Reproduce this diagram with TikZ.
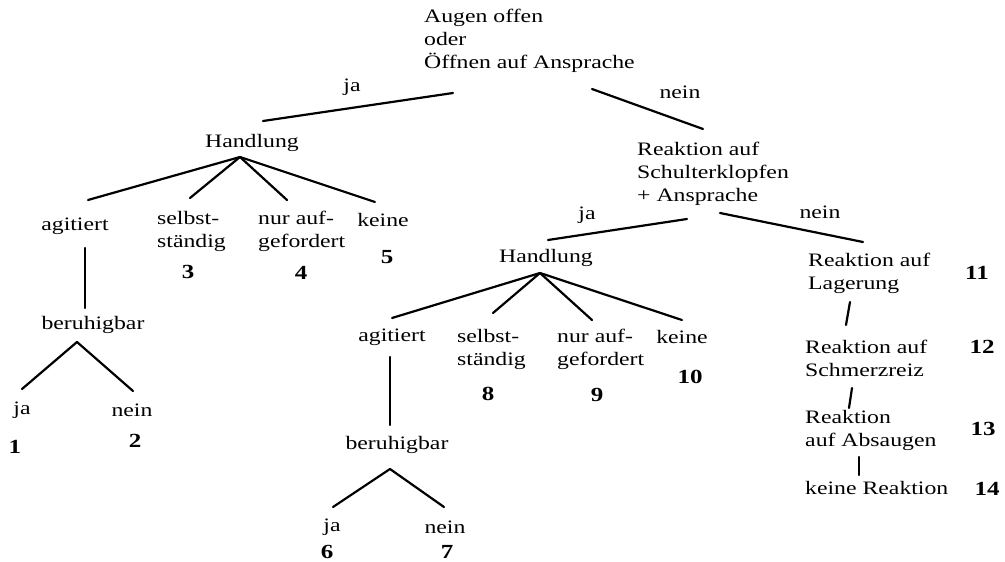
\documentclass[tikz,border=0pt]{standalone}
\usepackage{fontspec}
\setmainfont{Liberation Serif}[FakeStretch=1.25]
\begin{document}
\begin{tikzpicture}[x=1pt,y=-1pt,
  txt/.style={inner sep=0pt,anchor=west,align=left,font=\fontsize{19}{23}\selectfont},
  ctxt/.style={inner sep=0pt,anchor=center,align=center,font=\fontsize{19}{23}\selectfont},
  num/.style={inner sep=0pt,anchor=center,font=\fontsize{20}{23}\selectfont\bfseries},
  ln/.style={line width=2.2pt,line cap=round}]
\useasboundingbox[fill=white] (0,0) rectangle (1005,562);

% ---------- texts ----------
\node[txt] (root) at (424,41) {Augen offen\\oder\\Öffnen auf Ansprache};
\node[ctxt] (rja) at (352,87) {ja};
\node[ctxt] (rnein) at (680,92) {nein};

\node[ctxt] (hl) at (252,143) {Handlung};
\node[ctxt] (agl) at (75,226) {agitiert};
\node[txt] (sel) at (157,231.5) {selbst-\\ständig};
\node[txt] (nul) at (258,231.5) {nur auf-\\gefordert};
\node[ctxt] (kel) at (383,220) {keine};
\node[num] (n3) at (188,272) {3};
\node[num] (n4) at (301,273) {4};
\node[num] (n5) at (387,257) {5};
\node[ctxt] (bl) at (93,325) {beruhigbar};
\node[ctxt] (jal) at (22,410) {ja};
\node[ctxt] (nel) at (132,410) {nein};
\node[num] (n1) at (15,447) {1};
\node[num] (n2) at (135,441) {2};

\node[txt] (sch) at (637,173.5) {Reaktion auf\\Schulterklopfen\\+ Ansprache};
\node[ctxt] (sja) at (587,215) {ja};
\node[ctxt] (snein) at (820,212) {nein};

\node[ctxt] (hr) at (546,258) {Handlung};
\node[ctxt] (agr) at (392,337) {agitiert};
\node[txt] (ser) at (457,349.5) {selbst-\\ständig};
\node[txt] (nur) at (557,349.5) {nur auf-\\gefordert};
\node[ctxt] (ker) at (682,337) {keine};
\node[num] (n8) at (488,394) {8};
\node[num] (n9) at (597,395) {9};
\node[num] (n10) at (690,377) {10};
\node[ctxt] (br) at (397,445) {beruhigbar};
\node[ctxt] (jar) at (332,527) {ja};
\node[ctxt] (ner) at (445,527) {nein};
\node[num] (n6) at (327,552) {6};
\node[num] (n7) at (447,552) {7};

\node[txt] (lag) at (808,273.5) {Reaktion auf\\Lagerung};
\node[num] (n11) at (977,273) {11};
\node[txt] (sz) at (805,358) {Reaktion auf\\Schmerzreiz};
\node[num] (n12) at (982,347) {12};
\node[txt] (abs) at (805,430) {Reaktion\\auf Absaugen};
\node[num] (n13) at (983,429) {13};
\node[txt] (kr) at (805,488) {keine Reaktion};
\node[num] (n14) at (987,489) {14};

% ---------- connector end points ----------
\coordinate (rootL) at (453,93);   \coordinate (hlT) at (263,121);
\coordinate (rootR) at (592,89);   \coordinate (schT) at (703,129);
\coordinate (hlA) at (240,157);
\coordinate (aglT) at (88,200);  \coordinate (selT) at (190,198);
\coordinate (nulT) at (287,200); \coordinate (kelT) at (375,202);
\coordinate (aglB) at (85,248);  \coordinate (blT) at (85,308);
\coordinate (blA) at (77,342);
\coordinate (jalT) at (22,389);  \coordinate (nelT) at (133,391);
\coordinate (schL) at (687,219); \coordinate (hrT) at (548,240);
\coordinate (schR) at (720,213); \coordinate (lagT) at (863,242);
\coordinate (hrA) at (540,273);
\coordinate (agrT) at (392,318); \coordinate (serT) at (493,313);
\coordinate (nurT) at (592,320); \coordinate (kerT) at (682,320);
\coordinate (agrB) at (390,357); \coordinate (brT) at (390,425);
\coordinate (brA) at (390,469);
\coordinate (jarT) at (333,507); \coordinate (nerT) at (444,507);
\coordinate (lagB) at (850,302); \coordinate (szT) at (846,325);
\coordinate (szB) at (852,388);  \coordinate (absT) at (849,408);
\coordinate (absB) at (859,457); \coordinate (krT) at (859,475);

% ---------- connectors ----------
\draw[ln] (rootL) -- (hlT);
\draw[ln] (rootR) -- (schT);
\draw[ln] (hlA) -- (aglT);
\draw[ln] (hlA) -- (selT);
\draw[ln] (hlA) -- (nulT);
\draw[ln] (hlA) -- (kelT);
\draw[ln] (aglB) -- (blT);
\draw[ln] (blA) -- (jalT);
\draw[ln] (blA) -- (nelT);
\draw[ln] (schL) -- (hrT);
\draw[ln] (schR) -- (lagT);
\draw[ln] (hrA) -- (agrT);
\draw[ln] (hrA) -- (serT);
\draw[ln] (hrA) -- (nurT);
\draw[ln] (hrA) -- (kerT);
\draw[ln] (agrB) -- (brT);
\draw[ln] (brA) -- (jarT);
\draw[ln] (brA) -- (nerT);
\draw[ln] (lagB) -- (szT);
\draw[ln] (szB) -- (absT);
\draw[ln] (absB) -- (krT);
\end{tikzpicture}
\end{document}
